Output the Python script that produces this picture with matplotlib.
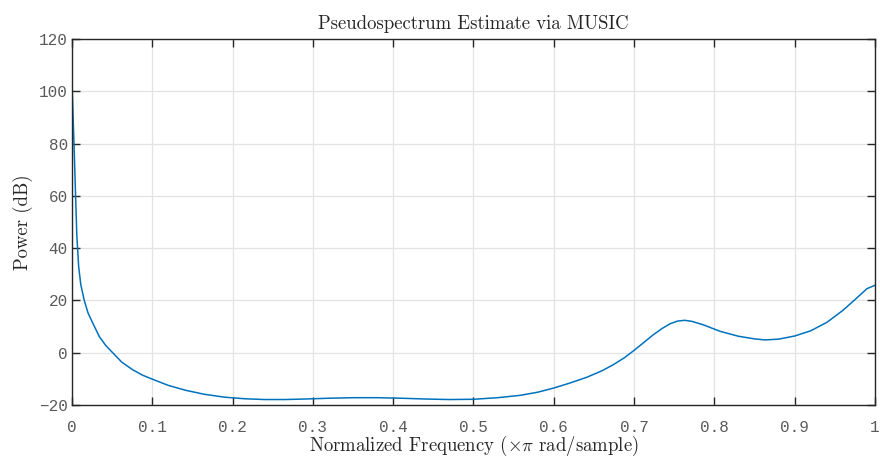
import numpy as np
import matplotlib.pyplot as plt

# pseudospectrum (normalized freq, dB)
freq = [0.0, 0.003, 0.006, 0.0083, 0.011, 0.0153, 0.020, 0.0258, 0.034, 0.042,
        0.0507, 0.062, 0.0755, 0.088, 0.1, 0.12, 0.142, 0.165, 0.19, 0.215,
        0.24, 0.265, 0.29, 0.32, 0.35, 0.38, 0.41, 0.44, 0.47, 0.5,
        0.53, 0.558, 0.58, 0.6, 0.62, 0.641, 0.66, 0.674, 0.688, 0.7,
        0.712, 0.724, 0.735, 0.745, 0.754, 0.763, 0.772, 0.786, 0.807, 0.83,
        0.85, 0.863, 0.88, 0.9, 0.92, 0.94, 0.96, 0.975, 0.99, 1.0]
power = [103.5, 75.0, 45.0, 33.0, 26.0, 20.0, 15.2, 11.4, 6.2, 2.8,
         0.0, -3.6, -6.5, -8.6, -10.1, -12.5, -14.4, -15.9, -17.0, -17.6,
         -17.9, -17.9, -17.7, -17.4, -17.2, -17.2, -17.4, -17.7, -17.9, -17.8,
         -17.2, -16.3, -15.1, -13.5, -11.6, -9.4, -6.9, -4.6, -1.9, 0.9,
         3.9, 6.9, 9.3, 11.1, 12.1, 12.4, 12.0, 10.7, 8.2, 6.3,
         5.3, 4.9, 5.2, 6.4, 8.4, 11.6, 16.2, 20.3, 24.5, 25.8]

xticks = np.arange(0, 1.01, 0.1)
yticks = np.arange(-20, 121, 20)
xticklabels = ['0', '0.1', '0.2', '0.3', '0.4', '0.5', '0.6', '0.7', '0.8', '0.9', '1']

plt.rcParams['mathtext.fontset'] = 'cm'

fig = plt.figure(figsize=(8.8, 4.59), dpi=100)
ax = fig.add_axes([0.0818, 0.1176, 0.9125, 0.7974])

ax.plot(freq, power, color='#0072BD', lw=1.1)

ax.set_xlim(0, 1)
ax.set_ylim(-20, 120)
ax.set_xticks(xticks)
ax.set_yticks(yticks)
ax.set_xticklabels(xticklabels)
ax.set_yticklabels([str(v).replace('-', '\u2212') for v in yticks])

for lbl in ax.get_xticklabels() + ax.get_yticklabels():
    lbl.set_fontfamily(['Liberation Mono', 'DejaVu Sans Mono'])
    lbl.set_fontsize(11.5)
    lbl.set_color('#5a5a5a')

ax.grid(True, color='#e3e3e3', lw=0.9)
ax.set_axisbelow(True)
ax.tick_params(direction='in', length=6, width=1, color='#262626',
               top=True, right=True)
ax.tick_params(axis='x', pad=11)
ax.tick_params(axis='y', pad=3)
for s in ax.spines.values():
    s.set_color('#262626')
    s.set_linewidth(1)

serif = ['cmr10', 'DejaVu Serif']
ax.set_title('Pseudospectrum Estimate via MUSIC', family=serif, fontsize=13.5,
             color='#262626', pad=7)
ax.set_xlabel(r'Normalized Frequency ($\times\pi$ rad/sample)', family=serif,
              fontsize=13.5, color='#262626', labelpad=-1)
ax.set_ylabel('Power (dB)', family=serif, fontsize=13.5, color='#262626',
              labelpad=4)

fig.savefig('out.png', dpi=100)
